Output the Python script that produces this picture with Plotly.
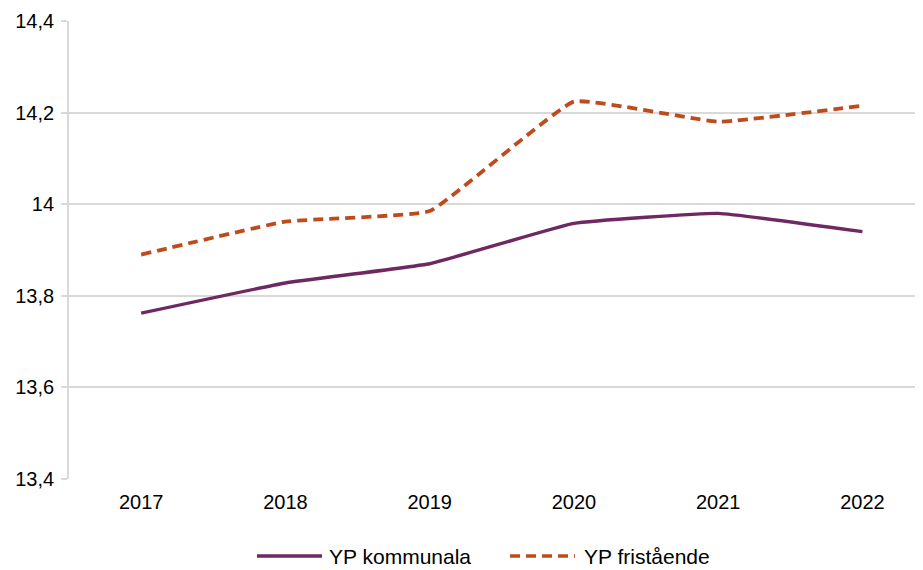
import plotly.graph_objects as go

years = ["2017", "2018", "2019", "2020", "2021", "2022"]
kommunala = [13.762, 13.828, 13.870, 13.958, 13.980, 13.940]
fristaende = [13.890, 13.962, 13.985, 14.224, 14.180, 14.215]
series_names = ["YP kommunala", "YP fristående"]
y_tickvals = [13.4, 13.6, 13.8, 14.0, 14.2, 14.4]
y_ticktext = ["13,4", "13,6", "13,8", "14", "14,2", "14,4"]

PURPLE = "#6E2862"
ORANGE = "#BE4B1C"
GRID = "#D9D9D9"
FONT = "Liberation Sans, Arial, sans-serif"

# page has an 8px body margin; target positions are in page pixels
OFF = 8
W, H = 923 - OFF, 570 - OFF
L, R, T, B = 69 - OFF, 0, 21 - OFF, 570 - 479
pw, ph = W - L - R, H - T - B

fig = go.Figure()
fig.add_trace(go.Scatter(x=years, y=kommunala, mode="lines", name=series_names[0],
                         line=dict(color=PURPLE, width=3.4, shape="spline", smoothing=0.3),
                         showlegend=False))
fig.add_trace(go.Scatter(x=years, y=fristaende, mode="lines", name=series_names[1],
                         line=dict(color=ORANGE, width=3.8, dash="10px,6px", shape="spline", smoothing=0.3),
                         showlegend=False))

def px_x(p):
    return (p - OFF - L) / pw

def px_y(p):
    return (H - B - (p - OFF)) / ph

shapes = []
annotations = []
legend_items = [
    (257, 322, 327, PURPLE, "solid", series_names[0]),
    (510, 575, 582, ORANGE, "10px,6px", series_names[1]),
]
ly = 556
for x0, x1, tx, col, dash, name in legend_items:
    shapes.append(dict(type="line", xref="paper", yref="paper",
                       x0=px_x(x0), x1=px_x(x1), y0=px_y(ly), y1=px_y(ly),
                       line=dict(color=col, width=3.6, dash=dash)))
    annotations.append(dict(xref="paper", yref="paper", x=px_x(tx), y=px_y(ly),
                            text=name, showarrow=False, xanchor="left", yanchor="middle",
                            font=dict(family=FONT, size=21, color="#000000")))

fig.update_layout(
    width=W, height=H,
    margin=dict(l=L, r=R, t=T, b=B),
    paper_bgcolor="white", plot_bgcolor="white",
    font=dict(family=FONT, size=20, color="#000000"),
    shapes=shapes, annotations=annotations,
    xaxis=dict(type="category", range=[-0.5, 5.42], showgrid=False,
               showline=False, zeroline=False, ticks="",
               ticklabelstandoff=9, tickfont=dict(size=20)),
    yaxis=dict(range=[13.4, 14.4], tickvals=y_tickvals, ticktext=y_ticktext,
               showgrid=True, gridcolor=GRID, gridwidth=1.8,
               showline=True, linecolor=GRID, linewidth=1.8,
               ticks="outside", ticklen=6, tickcolor=GRID, tickwidth=1.8,
               zeroline=False, ticklabelstandoff=3, tickfont=dict(size=20)),
)

fig.write_html("out.html")
